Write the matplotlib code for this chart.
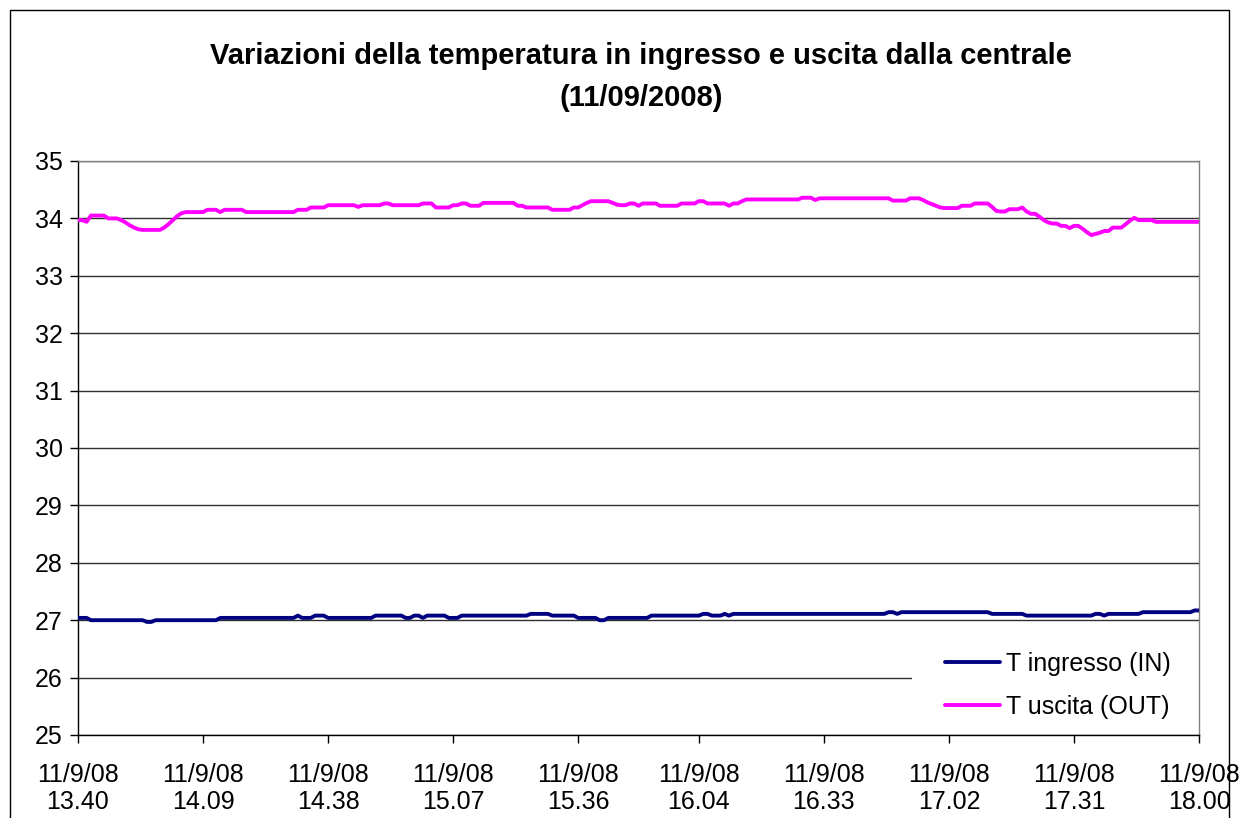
import matplotlib
matplotlib.use("Agg")
import matplotlib.pyplot as plt
from matplotlib.patches import Rectangle

plt.rcParams['font.family'] = ['Liberation Sans', 'DejaVu Sans']

# Minutes since 13:40 (one reading per minute, 13:40 .. 18:00)
t_uscita = [
    33.97, 33.97, 33.94, 34.05, 34.05, 34.05, 34.05, 34.00, 34.00, 34.00,
    33.97, 33.93, 33.88, 33.84, 33.81, 33.80, 33.80, 33.80, 33.80, 33.80,
    33.84, 33.90, 33.97, 34.04, 34.09, 34.11, 34.11, 34.11, 34.11, 34.11,
    34.15, 34.15, 34.15, 34.11, 34.15, 34.15, 34.15, 34.15, 34.15, 34.11,
    34.11, 34.11, 34.11, 34.11, 34.11, 34.11, 34.11, 34.11, 34.11, 34.11,
    34.11, 34.15, 34.15, 34.15, 34.19, 34.19, 34.19, 34.19, 34.23, 34.23,
    34.23, 34.23, 34.23, 34.23, 34.23, 34.20, 34.23, 34.23, 34.23, 34.23,
    34.23, 34.26, 34.26, 34.23, 34.23, 34.23, 34.23, 34.23, 34.23, 34.23,
    34.26, 34.26, 34.26, 34.19, 34.19, 34.19, 34.19, 34.23, 34.23, 34.26,
    34.26, 34.22, 34.22, 34.22, 34.27, 34.27, 34.27, 34.27, 34.27, 34.27,
    34.27, 34.27, 34.22, 34.22, 34.19, 34.19, 34.19, 34.19, 34.19, 34.19,
    34.15, 34.15, 34.15, 34.15, 34.15, 34.19, 34.19, 34.23, 34.27, 34.30,
    34.30, 34.30, 34.30, 34.30, 34.27, 34.24, 34.23, 34.23, 34.26, 34.26,
    34.22, 34.26, 34.26, 34.26, 34.26, 34.22, 34.22, 34.22, 34.22, 34.22,
    34.26, 34.26, 34.26, 34.26, 34.30, 34.30, 34.26, 34.26, 34.26, 34.26,
    34.26, 34.22, 34.26, 34.26, 34.30, 34.33, 34.33, 34.33, 34.33, 34.33,
    34.33, 34.33, 34.33, 34.33, 34.33, 34.33, 34.33, 34.33, 34.36, 34.36,
    34.36, 34.32, 34.35, 34.35, 34.35, 34.35, 34.35, 34.35, 34.35, 34.35,
    34.35, 34.35, 34.35, 34.35, 34.35, 34.35, 34.35, 34.35, 34.35, 34.31,
    34.31, 34.31, 34.31, 34.35, 34.35, 34.35, 34.32, 34.28, 34.25, 34.22,
    34.19, 34.18, 34.18, 34.18, 34.18, 34.22, 34.22, 34.22, 34.26, 34.26,
    34.26, 34.26, 34.20, 34.13, 34.12, 34.12, 34.16, 34.16, 34.16, 34.19,
    34.12, 34.08, 34.08, 34.03, 33.97, 33.93, 33.91, 33.91, 33.87, 33.87,
    33.83, 33.87, 33.87, 33.82, 33.76, 33.71, 33.73, 33.75, 33.78, 33.78,
    33.84, 33.84, 33.84, 33.90, 33.96, 34.01, 33.97, 33.97, 33.97, 33.97,
    33.94, 33.94, 33.94, 33.94, 33.94, 33.94, 33.94, 33.94, 33.94, 33.94,
    33.94,
]

t_ingresso = [
    27.04, 27.04, 27.04, 27.00, 27.00, 27.00, 27.00, 27.00, 27.00, 27.00,
    27.00, 27.00, 27.00, 27.00, 27.00, 27.00, 26.97, 26.97, 27.00, 27.00,
    27.00, 27.00, 27.00, 27.00, 27.00, 27.00, 27.00, 27.00, 27.00, 27.00,
    27.00, 27.00, 27.00, 27.04, 27.04, 27.04, 27.04, 27.04, 27.04, 27.04,
    27.04, 27.04, 27.04, 27.04, 27.04, 27.04, 27.04, 27.04, 27.04, 27.04,
    27.04, 27.08, 27.04, 27.04, 27.04, 27.08, 27.08, 27.08, 27.04, 27.04,
    27.04, 27.04, 27.04, 27.04, 27.04, 27.04, 27.04, 27.04, 27.04, 27.08,
    27.08, 27.08, 27.08, 27.08, 27.08, 27.08, 27.04, 27.04, 27.08, 27.08,
    27.04, 27.08, 27.08, 27.08, 27.08, 27.08, 27.04, 27.04, 27.04, 27.08,
    27.08, 27.08, 27.08, 27.08, 27.08, 27.08, 27.08, 27.08, 27.08, 27.08,
    27.08, 27.08, 27.08, 27.08, 27.08, 27.11, 27.11, 27.11, 27.11, 27.11,
    27.08, 27.08, 27.08, 27.08, 27.08, 27.08, 27.04, 27.04, 27.04, 27.04,
    27.04, 27.00, 27.00, 27.04, 27.04, 27.04, 27.04, 27.04, 27.04, 27.04,
    27.04, 27.04, 27.04, 27.08, 27.08, 27.08, 27.08, 27.08, 27.08, 27.08,
    27.08, 27.08, 27.08, 27.08, 27.08, 27.11, 27.11, 27.08, 27.08, 27.08,
    27.11, 27.08, 27.11, 27.11, 27.11, 27.11, 27.11, 27.11, 27.11, 27.11,
    27.11, 27.11, 27.11, 27.11, 27.11, 27.11, 27.11, 27.11, 27.11, 27.11,
    27.11, 27.11, 27.11, 27.11, 27.11, 27.11, 27.11, 27.11, 27.11, 27.11,
    27.11, 27.11, 27.11, 27.11, 27.11, 27.11, 27.11, 27.11, 27.14, 27.14,
    27.11, 27.14, 27.14, 27.14, 27.14, 27.14, 27.14, 27.14, 27.14, 27.14,
    27.14, 27.14, 27.14, 27.14, 27.14, 27.14, 27.14, 27.14, 27.14, 27.14,
    27.14, 27.14, 27.11, 27.11, 27.11, 27.11, 27.11, 27.11, 27.11, 27.11,
    27.08, 27.08, 27.08, 27.08, 27.08, 27.08, 27.08, 27.08, 27.08, 27.08,
    27.08, 27.08, 27.08, 27.08, 27.08, 27.08, 27.11, 27.11, 27.08, 27.11,
    27.11, 27.11, 27.11, 27.11, 27.11, 27.11, 27.11, 27.14, 27.14, 27.14,
    27.14, 27.14, 27.14, 27.14, 27.14, 27.14, 27.14, 27.14, 27.14, 27.17,
    27.17,
]

minutes = list(range(len(t_uscita)))

tick_minutes = [0, 29, 58, 87, 116, 144, 173, 202, 231, 260]
tick_labels = ["11/9/08\n13.40", "11/9/08\n14.09", "11/9/08\n14.38",
               "11/9/08\n15.07", "11/9/08\n15.36", "11/9/08\n16.04",
               "11/9/08\n16.33", "11/9/08\n17.02", "11/9/08\n17.31",
               "11/9/08\n18.00"]
y_ticks = list(range(25, 36))

title = "Variazioni della temperatura in ingresso e uscita dalla centrale\n(11/09/2008)"

W, H = 1239, 818
fig = plt.figure(figsize=(W / 100, H / 100), dpi=100)
fig.patch.set_facecolor("white")

# outer chart border
fig.patches.append(Rectangle((10 / W, -0.05), (1229 - 10) / W, 1 - 10 / H + 0.05,
                             transform=fig.transFigure, fill=False,
                             edgecolor="black", linewidth=1.0))

AX_L, AX_R, AX_T, AX_B = 78, 1199, 161, 735
ax = fig.add_axes([AX_L / W, 1 - AX_B / H, (AX_R - AX_L) / W, (AX_B - AX_T) / H])

def ax_x(px):
    return (px - AX_L) / (AX_R - AX_L)

def ax_y(py):
    return (AX_B - py) / (AX_B - AX_T)

ax.plot(minutes, t_ingresso, color="#000080", lw=2.8, label="T ingresso (IN)",
        solid_joinstyle="round", solid_capstyle="round", zorder=3)
ax.plot(minutes, t_uscita, color="#FF00FF", lw=2.8, label="T uscita (OUT)",
        solid_joinstyle="round", solid_capstyle="round", zorder=3)

ax.set_xlim(0, 260)
ax.set_ylim(25, 35)
ax.set_yticks(y_ticks)
ax.set_yticklabels([str(v) for v in y_ticks])
ax.set_xticks(tick_minutes)
ax.set_xticklabels(tick_labels, linespacing=1.15)

ax.yaxis.grid(True, color="#303030", lw=1.0)
ax.set_axisbelow(True)

for s in ["top", "right"]:
    ax.spines[s].set_color("#808080")
    ax.spines[s].set_linewidth(1.0)
for s in ["left", "bottom"]:
    ax.spines[s].set_color("black")
    ax.spines[s].set_linewidth(1.0)

ax.tick_params(axis="both", labelsize=18, direction="out", length=6,
               width=1.0, colors="black")
ax.tick_params(axis="x", pad=14)
ax.tick_params(axis="y", pad=5)

fig.text(641 / W, 1 - 77 / H, title, ha="center", va="center", fontsize=21,
         fontweight="bold", linespacing=1.6)

# white legend background box (no border)
ax.add_patch(Rectangle((ax_x(912), ax_y(733)), 1 - ax_x(912), ax_y(632) - ax_y(733),
                       transform=ax.transAxes, facecolor="white",
                       edgecolor="none", zorder=2.5))

leg = ax.legend(loc="upper left", bbox_to_anchor=(ax_x(945), ax_y(652)),
                fontsize=18, frameon=False, handlelength=2.2,
                handletextpad=0.25, labelspacing=0.75, borderpad=0,
                borderaxespad=0)
leg.set_zorder(5)

fig.savefig("out.png", dpi=100)
